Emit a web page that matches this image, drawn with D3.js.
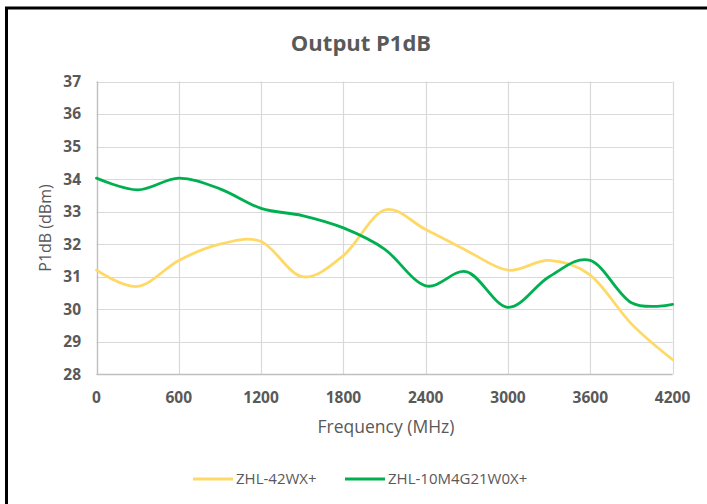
<!DOCTYPE html>
<html><head><meta charset="utf-8">
<script src="https://cdn.jsdelivr.net/npm/d3@7"></script>
<style>body{margin:0;background:#fff;}svg{display:block;font-family:"Open Sans",sans-serif;}</style>
</head><body>
<svg id="c" width="707" height="504"></svg>
<script>
const freqs = [0,300,600,900,1200,1500,1800,2100,2400,2700,3000,3300,3600,3900,4200];
const seriesNames = ["ZHL-42WX+","ZHL-10M4G21W0X+"];
const zhl42 = [31.2,30.7,31.5,32.0,32.08,31.0,31.65,33.05,32.45,31.8,31.2,31.5,31.05,29.55,28.45];
const zhl10 = [34.03,33.67,34.03,33.7,33.1,32.88,32.5,31.85,30.72,31.15,30.06,31.0,31.5,30.2,30.15];
const xTicks = [0,600,1200,1800,2400,3000,3600,4200];
const yTicks = [28,29,30,31,32,33,34,35,36,37];
const colors = ["#FFD966","#00B050"];

const svg = d3.select("#c");
const x = d3.scaleLinear().domain([0,4200]).range([96.5,672.6]);
const y = d3.scaleLinear().domain([28,37]).range([374.3,81.5]);
const grey = "#595959";

// frame
svg.append("path").attr("d","M6.5,504 V8 H707").attr("fill","none").attr("stroke","#000").attr("stroke-width",3);

// gridlines
const g = svg.append("g");
g.selectAll("line.h").data(yTicks).join("line")
 .attr("x1",x(0)).attr("x2",x(4200)).attr("y1",d=>Math.round(y(d))+0.5).attr("y2",d=>Math.round(y(d))+0.5)
 .attr("stroke","#D9D9D9").attr("stroke-width",1.2);
g.selectAll("line.v").data(xTicks).join("line")
 .attr("y1",y(37)).attr("y2",y(28)).attr("x1",d=>Math.round(x(d))+0.5).attr("x2",d=>Math.round(x(d))+0.5)
 .attr("stroke","#D9D9D9").attr("stroke-width",1.2);
// axis lines
svg.append("line").attr("x1",x(0)).attr("x2",x(4200)).attr("y1",Math.round(y(28))+0.5).attr("y2",Math.round(y(28))+0.5).attr("stroke","#BFBFBF").attr("stroke-width",1.3);
svg.append("line").attr("x1",Math.round(x(0))+0.5).attr("x2",Math.round(x(0))+0.5).attr("y1",y(37)).attr("y2",y(28)).attr("stroke","#BFBFBF").attr("stroke-width",1.3);

// tick labels
svg.selectAll("text.yt").data(yTicks).join("text")
 .attr("x",81).attr("y",d=>y(d)).attr("dy","0.35em").attr("text-anchor","end")
 .attr("font-size",15.5).attr("font-weight","bold").attr("fill",grey).text(d=>d);
svg.selectAll("text.xt").data(xTicks).join("text")
 .attr("x",d=>x(d)).attr("y",398).attr("dy","0.35em").attr("text-anchor","middle")
 .attr("font-size",15.5).attr("font-weight","bold").attr("fill",grey).text(d=>d);

// titles
svg.append("text").attr("x",361).attr("y",51).attr("text-anchor","middle").attr("font-size",22).attr("font-weight","bold").attr("fill",grey).text("Output P1dB");
svg.append("text").attr("x",386).attr("y",433).attr("text-anchor","middle").attr("font-size",17.5).attr("fill",grey).text("Frequency (MHz)");
svg.append("text").attr("transform","translate(51,228) rotate(-90)").attr("text-anchor","middle").attr("font-size",16).attr("fill",grey).text("P1dB (dBm)");

// lines
const line = d3.line().x((d,i)=>x(freqs[i])).y(d=>y(d)).curve(d3.curveCardinal.tension(0));
[zhl42,zhl10].forEach((s,i)=>{
  svg.append("path").attr("d",line(s)).attr("fill","none").attr("stroke",colors[i]).attr("stroke-width",2.8).attr("stroke-linecap","round");
});

// legend
const lx = [193,345];
seriesNames.forEach((n,i)=>{
  svg.append("line").attr("x1",lx[i]).attr("x2",lx[i]+40).attr("y1",479).attr("y2",479).attr("stroke",colors[i]).attr("stroke-width",2.8);
  svg.append("text").attr("x",lx[i]+43).attr("y",479).attr("dy","0.35em").attr("font-size",15).attr("fill",grey).text(n);
});
</script>
</body></html>
